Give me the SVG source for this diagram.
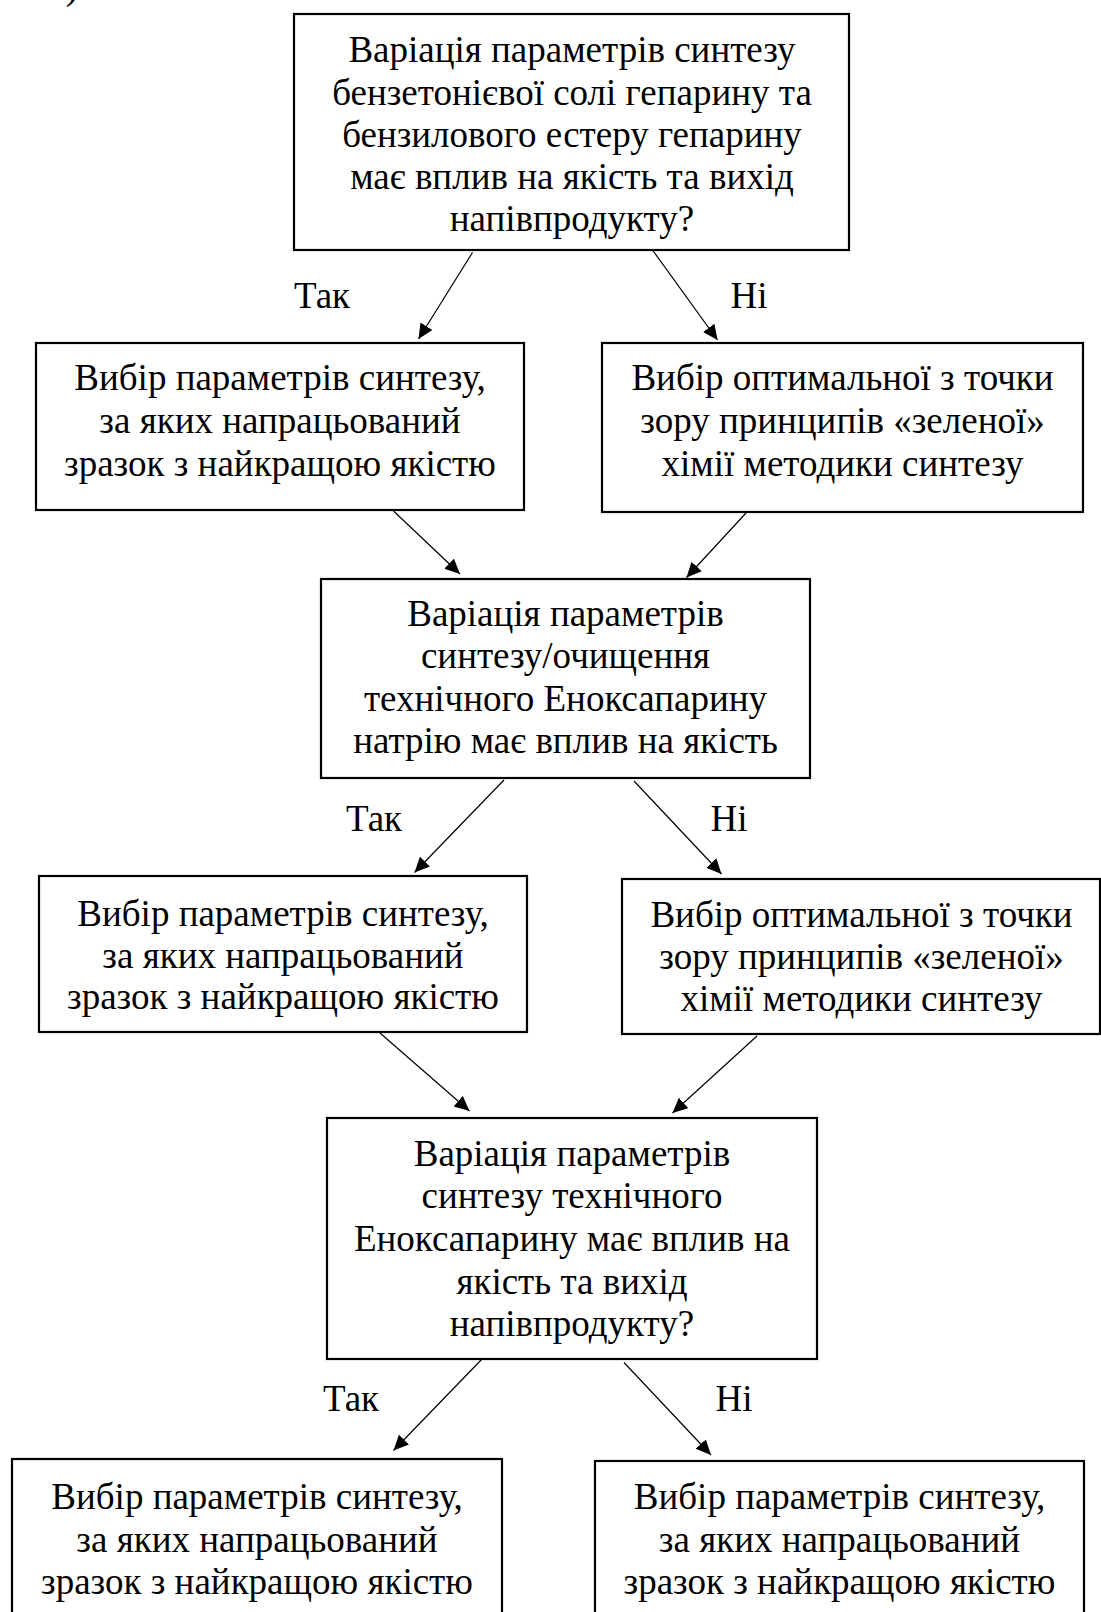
<svg xmlns="http://www.w3.org/2000/svg" width="1101" height="1612" viewBox="0 0 1101 1612">
<style>
.box{fill:#fff;stroke:#000;stroke-width:2.2}
.t{font-family:"Liberation Serif","Times New Roman",serif;font-size:37px;fill:#000;text-anchor:middle}
.c{stroke:#000;stroke-width:1.2;fill:none;marker-end:url(#ah)}
</style>
<defs>
<marker id="ah" markerUnits="userSpaceOnUse" markerWidth="16" markerHeight="15" refX="15" refY="7" orient="auto">
<path d="M0,0 L15,7 L0,14 z" fill="#000"/>
</marker>
</defs>
<rect width="1101" height="1612" fill="#fff"/>
<text class="t" x="72" y="-1">)</text>
<g id="connectors">
<line class="c" x1="472.5" y1="252.5" x2="418.5" y2="339"/>
<line class="c" x1="652.5" y1="250" x2="717.5" y2="340"/>
<line class="c" x1="393.5" y1="511" x2="460" y2="574"/>
<line class="c" x1="746" y1="513" x2="686.5" y2="577.5"/>
<line class="c" x1="504" y1="780" x2="414.5" y2="872.5"/>
<line class="c" x1="634" y1="781" x2="721.5" y2="874"/>
<line class="c" x1="380" y1="1033" x2="469.5" y2="1111"/>
<line class="c" x1="757" y1="1036" x2="672.5" y2="1113"/>
<line class="c" x1="483.5" y1="1357.5" x2="393.5" y2="1450.5"/>
<line class="c" x1="624" y1="1362.5" x2="711" y2="1455"/>
<text class="t" x="322" y="308">Так</text>
<text class="t" x="749" y="308">Ні</text>
<text class="t" x="374" y="831">Так</text>
<text class="t" x="729" y="831">Ні</text>
<text class="t" x="351" y="1411">Так</text>
<text class="t" x="734" y="1411">Ні</text>
</g>
<g id="n1">
<rect class="box" x="294" y="14" width="555" height="236"/>
<text class="t" x="572" y="61.5">Варіація параметрів синтезу</text>
<text class="t" x="572" y="104.5">бензетонієвої солі гепарину та</text>
<text class="t" x="572" y="146.7">бензилового естеру гепарину</text>
<text class="t" x="572" y="188.8">має вплив на якість та вихід</text>
<text class="t" x="572" y="231">напівпродукту?</text>
</g>
<g id="n2">
<rect class="box" x="36" y="343" width="488" height="167"/>
<text class="t" x="280" y="390">Вибір параметрів синтезу,</text>
<text class="t" x="280" y="433">за яких напрацьований</text>
<text class="t" x="280" y="475.5">зразок з найкращою якістю</text>
</g>
<g id="n3">
<rect class="box" x="602" y="343" width="481" height="169"/>
<text class="t" x="842.5" y="390">Вибір оптимальної з точки</text>
<text class="t" x="842.5" y="433">зору принципів «зеленої»</text>
<text class="t" x="842.5" y="475.5">хімії методики синтезу</text>
</g>
<g id="n4">
<rect class="box" x="321" y="579" width="489" height="199"/>
<text class="t" x="565.5" y="625.5">Варіація параметрів</text>
<text class="t" x="565.5" y="668">синтезу/очищення</text>
<text class="t" x="565.5" y="710.5">технічного Еноксапарину</text>
<text class="t" x="565.5" y="753">натрію має вплив на якість</text>
</g>
<g id="n5">
<rect class="box" x="39" y="876" width="488" height="156"/>
<text class="t" x="283" y="926">Вибір параметрів синтезу,</text>
<text class="t" x="283" y="968">за яких напрацьований</text>
<text class="t" x="283" y="1009">зразок з найкращою якістю</text>
</g>
<g id="n6">
<rect class="box" x="622" y="879" width="478" height="155"/>
<text class="t" x="861.5" y="927">Вибір оптимальної з точки</text>
<text class="t" x="861.5" y="969">зору принципів «зеленої»</text>
<text class="t" x="861.5" y="1011">хімії методики синтезу</text>
</g>
<g id="n7">
<rect class="box" x="327" y="1118" width="490" height="241"/>
<text class="t" x="572" y="1165.5">Варіація параметрів</text>
<text class="t" x="572" y="1207.5">синтезу технічного</text>
<text class="t" x="572" y="1251">Еноксапарину має вплив на</text>
<text class="t" x="572" y="1294">якість та вихід</text>
<text class="t" x="572" y="1336">напівпродукту?</text>
</g>
<g id="n8">
<rect class="box" x="12" y="1459" width="490" height="200"/>
<text class="t" x="257" y="1509">Вибір параметрів синтезу,</text>
<text class="t" x="257" y="1552">за яких напрацьований</text>
<text class="t" x="257" y="1594">зразок з найкращою якістю</text>
</g>
<g id="n9">
<rect class="box" x="595" y="1461" width="489" height="200"/>
<text class="t" x="839.5" y="1509">Вибір параметрів синтезу,</text>
<text class="t" x="839.5" y="1552">за яких напрацьований</text>
<text class="t" x="839.5" y="1594">зразок з найкращою якістю</text>
</g>
</svg>
